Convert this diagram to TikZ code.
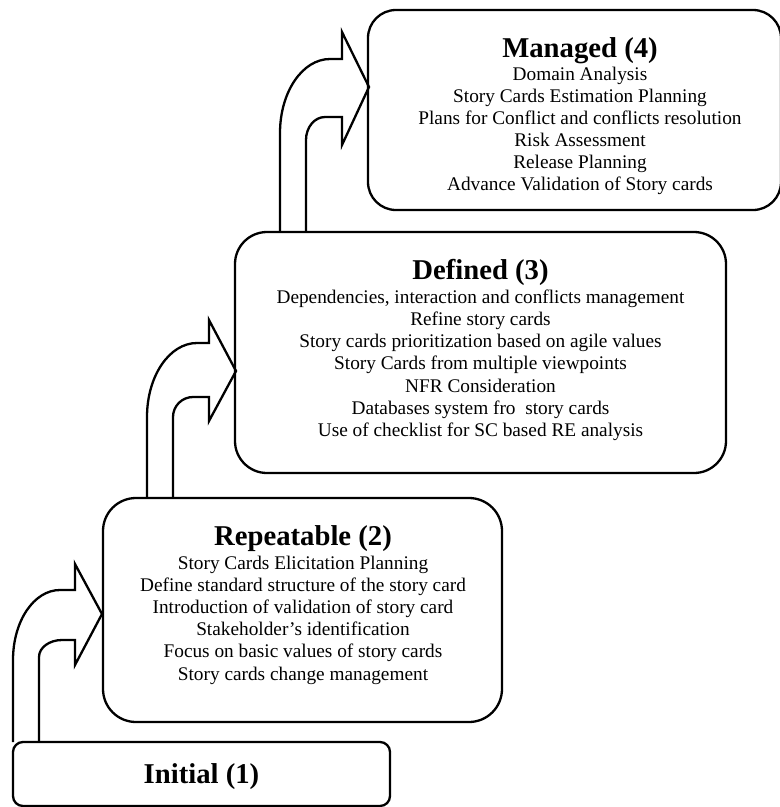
\documentclass[tikz,border=0pt]{standalone}
\usepackage{fontspec}
\setmainfont{Liberation Serif}
\begin{document}
\begin{tikzpicture}[x=1pt,y=-1pt,line join=miter,
  boxstyle/.style={draw=black,line width=2.3pt,inner sep=0pt,fill=none},
  bentarrow/.style={draw=black,line width=2.3pt},
  titletext/.style={anchor=base,inner sep=0pt,font=\fontsize{28.7}{33}\selectfont\bfseries},
  bodytext/.style={anchor=base,inner sep=0pt,font=\fontsize{19.3}{22.2}\selectfont}]
\useasboundingbox (0,0) rectangle (780,807);

% boxes
\node[boxstyle,rounded corners=10pt,minimum width=377pt,minimum height=64pt] (initial) at (201.5,774) {};
\node[boxstyle,rounded corners=33pt,minimum width=399pt,minimum height=224pt] (repeatable) at (302.5,610) {};
\node[boxstyle,rounded corners=32pt,minimum width=491pt,minimum height=241pt] (defined) at (480.5,352.5) {};
\node[boxstyle,rounded corners=28pt,minimum width=413pt,minimum height=200pt] (managed) at (574.5,110) {};

% bent arrows
\draw[bentarrow] (13,742) -- (13,660) .. controls (13,621) and (34,590) .. (60,590)
  -- (75,590) -- (75,564) -- (102,614) -- (75,665) -- (75,640) -- (62,640)
  .. controls (49.3,640) and (39,647.6) .. (39,657) -- (39,742);
\draw[bentarrow] (147,498) -- (147,417) .. controls (147,376) and (169.4,343) .. (197,343)
  -- (209,343) -- (209,320) -- (236,371) -- (209,421) -- (209,397) -- (193,397)
  .. controls (182,397) and (173,406) .. (173,417) -- (173,498);
\draw[bentarrow] (280,232) -- (280,133) .. controls (280,92) and (302.4,59) .. (330,59)
  -- (342,59) -- (342,32) -- (369,87) -- (342,145) -- (342,117) -- (325,117)
  .. controls (314.5,117) and (306,127.3) .. (306,140) -- (306,232);

% texts
\node[titletext] (initialT) at (201.5,783) {Initial (1)};

\node[titletext] (repeatableT) at (303,545) {Repeatable (2)};
\foreach \t [count=\i] in {Story Cards Elicitation Planning,
  Define standard structure of the story card,
  Introduction of validation of story card,
  Stakeholder’s identification,
  Focus on basic values of story cards,
  Story cards change management}
  \node[bodytext] (r\i) at ({303},{569+22.2*(\i-1)}) {\t};

\node[titletext] (definedT) at (480.5,279) {Defined (3)};
\foreach \t [count=\i] in {{Dependencies, interaction and conflicts management},
  Refine story cards,
  Story cards prioritization based on agile values,
  Story Cards from multiple viewpoints,
  NFR Consideration,
  Databases system fro\ \ story cards,
  Use of checklist for SC based RE analysis}
  \node[bodytext] (d\i) at ({480.5},{303+22.3*(\i-1)}) {\t};

\node[titletext] (managedT) at (580,57) {Managed (4)};
\foreach \t [count=\i] in {Domain Analysis,
  Story Cards Estimation Planning,
  Plans for Conflict and conflicts resolution,
  Risk Assessment,
  Release Planning,
  Advance Validation of Story cards}
  \node[bodytext] (m\i) at ({580},{80+22*(\i-1)}) {\t};
\end{tikzpicture}
\end{document}
